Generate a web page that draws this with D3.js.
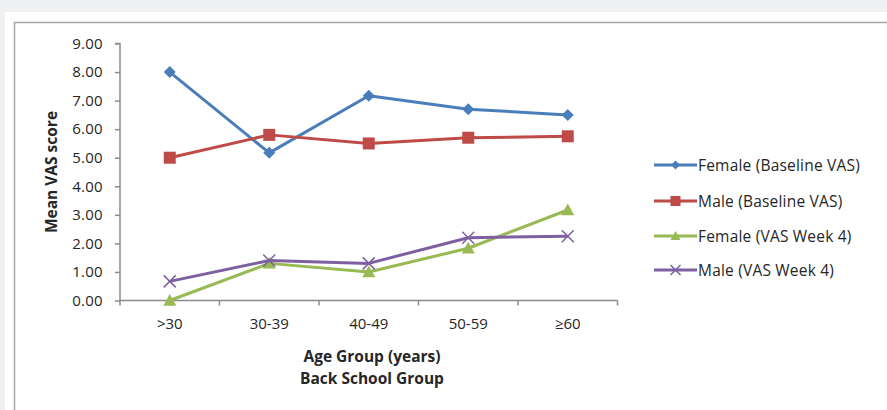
<!DOCTYPE html>
<html><head><meta charset="utf-8">
<script src="https://cdn.jsdelivr.net/npm/d3@7"></script>
<style>
html,body{margin:0;padding:0;background:#eef0f2;}
svg{display:block;}
</style></head>
<body>
<svg id="chart" width="887" height="410"></svg>
<script>
const categories = [">30", "30-39", "40-49", "50-59", "≥60"];
const femaleBaseline = [8.0, 5.17, 7.17, 6.7, 6.5];
const maleBaseline = [5.0, 5.8, 5.5, 5.7, 5.75];
const femaleWeek4 = [0.0, 1.3, 1.0, 1.83, 3.17];
const maleWeek4 = [0.67, 1.4, 1.3, 2.2, 2.25];
const yTicks = [0, 1, 2, 3, 4, 5, 6, 7, 8, 9];
const seriesNames = ["Female (Baseline VAS)", "Male (Baseline VAS)", "Female (VAS Week 4)", "Male (VAS Week 4)"];
const seriesColors = ["#4a7ebb", "#be4b48", "#98b954", "#7d60a0"];
const seriesMarkers = ["diamond", "square", "triangle", "cross"];
const seriesValues = [femaleBaseline, maleBaseline, femaleWeek4, maleWeek4];

const svg = d3.select("#chart");
const font = "'Open Sans', sans-serif";
const textColor = "#262626";

// card
svg.append("rect").attr("x", 5).attr("y", 12).attr("width", 882).attr("height", 398).attr("fill", "#ffffff");
svg.append("path").attr("d", "M14.5,410 V22.5 H887").attr("fill", "none").attr("stroke", "#a6a6a6").attr("stroke-width", 1.5);

const x = d3.scaleBand().domain(categories).range([120, 617.5]);
const y = d3.scaleLinear().domain([0, 9]).range([300.5, 43.5]);

const axisColor = "#8c8c8c";
// y axis
const yAxis = svg.append("g").attr("transform", "translate(120,0)")
  .call(d3.axisLeft(y).tickValues(yTicks).tickSize(5).tickPadding(12).tickFormat(d3.format(".2f")));
yAxis.select(".domain").attr("stroke", axisColor).attr("stroke-width", 1.5).attr("d", "M-5," + y(9) + "H0V" + y(0));
yAxis.selectAll(".tick line").attr("stroke", axisColor).attr("stroke-width", 1.5);
yAxis.selectAll(".tick text").attr("fill", textColor).style("font-family", font).style("font-size", "15px").style("letter-spacing", "0.3px");

// x axis
const xAxis = svg.append("g").attr("transform", "translate(0,300.5)")
  .call(d3.axisBottom(x).tickSize(0).tickPadding(18));
xAxis.select(".domain").attr("stroke", axisColor).attr("stroke-width", 1.5).attr("d", "M120,0H617.5");
xAxis.selectAll(".tick text").attr("fill", textColor).style("font-family", font).style("font-size", "15px");
// category boundary ticks
const bounds = categories.map(c => x(c)).concat([x.range()[1]]);
svg.append("g").selectAll("line").data(bounds).join("line")
  .attr("x1", d => d).attr("x2", d => d).attr("y1", 300.5).attr("y2", 305.5)
  .attr("stroke", axisColor).attr("stroke-width", 1.5);

// axis titles
svg.append("text").attr("transform", "translate(57,172) rotate(-90)").attr("text-anchor", "middle")
  .style("font-family", font).style("font-size", "15.5px").style("font-weight", "bold").attr("fill", textColor)
  .text("Mean VAS score");
svg.append("text").attr("x", 372).attr("y", 362).attr("text-anchor", "middle")
  .style("font-family", font).style("font-size", "15.5px").style("font-weight", "bold").attr("fill", textColor)
  .text("Age Group (years)");
svg.append("text").attr("x", 372).attr("y", 384).attr("text-anchor", "middle")
  .style("font-family", font).style("font-size", "15.5px").style("font-weight", "bold").attr("fill", textColor)
  .text("Back School Group");

const cx = c => x(c) + x.bandwidth() / 2;
function marker(g, type, color, px, py, s) {
  if (type === "diamond") {
    g.append("path").attr("d", `M${px},${py - s}L${px + s},${py}L${px},${py + s}L${px - s},${py}Z`).attr("fill", color);
  } else if (type === "square") {
    g.append("rect").attr("x", px - s).attr("y", py - s).attr("width", 2 * s).attr("height", 2 * s).attr("fill", color);
  } else if (type === "triangle") {
    g.append("path").attr("d", `M${px},${py - s}L${px + s},${py + s * 0.8}L${px - s},${py + s * 0.8}Z`).attr("fill", color);
  } else {
    g.append("path").attr("d", `M${px - s},${py - s}L${px + s},${py + s}M${px - s},${py + s}L${px + s},${py - s}`)
      .attr("stroke", color).attr("stroke-width", 1.5).attr("fill", "none");
  }
}
const markerSize = [6, 6, 6.5, 6];
const line = d3.line().x((d, i) => cx(categories[i])).y(d => y(d));
seriesValues.forEach((vals, k) => {
  const g = svg.append("g");
  g.append("path").datum(vals).attr("d", line).attr("fill", "none")
    .attr("stroke", seriesColors[k]).attr("stroke-width", 3).attr("stroke-linejoin", "round");
  vals.forEach((v, i) => marker(g, seriesMarkers[k], seriesColors[k], cx(categories[i]), y(v), markerSize[k]));
});

// legend
const legendY = [165, 201, 236, 270];
const legendMarker = [4.5, 5, 5, 5];
seriesNames.forEach((name, k) => {
  const g = svg.append("g");
  g.append("line").attr("x1", 654).attr("x2", 697).attr("y1", legendY[k]).attr("y2", legendY[k])
    .attr("stroke", seriesColors[k]).attr("stroke-width", 3);
  marker(g, seriesMarkers[k], seriesColors[k], 675.5, legendY[k], legendMarker[k]);
  g.append("text").attr("x", 698).attr("y", legendY[k]).attr("dy", "0.36em")
    .style("font-family", font).style("font-size", "15.5px").style("letter-spacing", "0.2px").attr("fill", textColor).text(name);
});
</script>
</body></html>
